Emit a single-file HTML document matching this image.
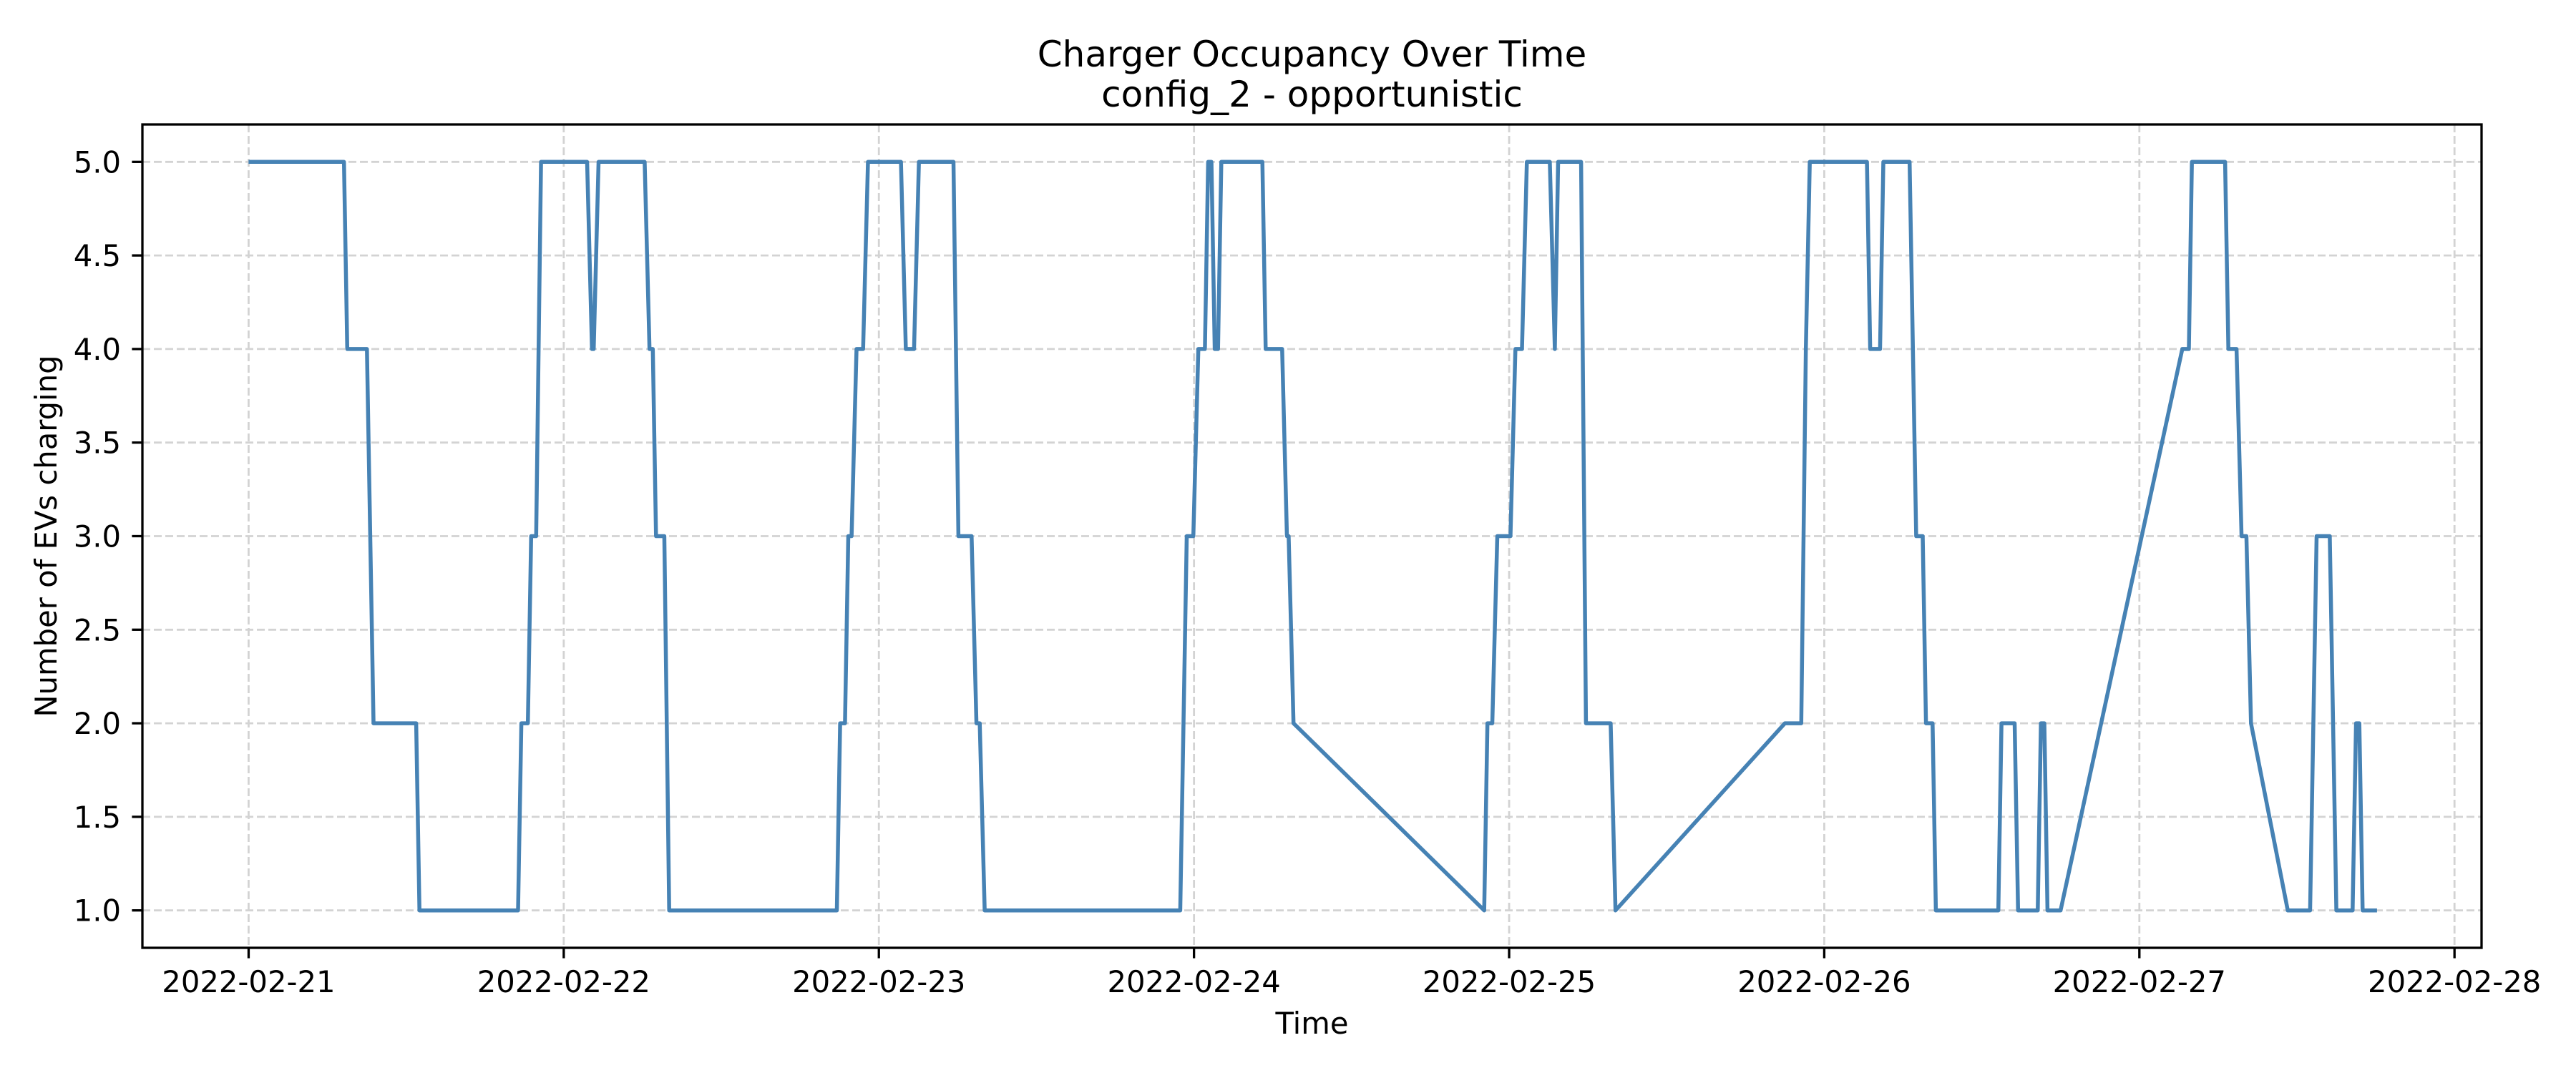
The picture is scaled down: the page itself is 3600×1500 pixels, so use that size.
<!DOCTYPE html>
<html><head><meta charset="utf-8"><style>
html,body{margin:0;padding:0;background:#fff;}
svg{display:block;font-family:"DejaVu Sans","Liberation Sans",sans-serif;}
</style></head><body>
<svg id="chart" width="3600" height="1500" viewBox="0 0 3600 1500" xmlns="http://www.w3.org/2000/svg">
<rect width="3600" height="1500" fill="#fff"/>
<text x="1833.5" y="93" font-size="50" text-anchor="middle">Charger Occupancy Over Time</text>
<text x="1833.5" y="149" font-size="50" text-anchor="middle">config_2 - opportunistic</text>
<g id="grid"></g>
<g id="ticks"></g>
<path id="line" fill="none" stroke="#4682b4" stroke-width="5.5" stroke-linejoin="round"/>
<rect x="199" y="174" width="3269" height="1151" fill="none" stroke="#000" stroke-width="3.3"/>
<text x="1833.5" y="1445" font-size="41.7" text-anchor="middle">Time</text>
<text transform="translate(79,749.5) rotate(-90)" font-size="41.7" text-anchor="middle">Number of EVs charging</text>
</svg>
<script>
// hours since 2022-02-21 00:00
const hours = [0,7.26,7.51,9.01,9.51,12.76,13.01,20.52,20.77,21.27,21.52,21.9,22.27,25.78,26.15,26.28,26.65,30.16,30.53,30.78,31.03,31.66,32.03,44.8,45.05,45.42,45.67,45.92,46.3,46.8,47.17,49.68,50.05,50.68,51.05,53.68,54.06,55.06,55.43,55.68,56.06,70.95,71.45,71.95,72.33,72.83,73.08,73.33,73.58,73.83,74.08,77.21,77.46,78.71,79.08,79.21,79.58,94.1,94.35,94.72,95.1,96.1,96.48,96.98,97.35,99.1,99.48,99.73,101.48,101.85,103.73,104.1,117,118.25,118.6,118.9,123.25,123.5,124.25,124.5,126.5,127,127.5,127.75,128.25,128.5,133.26,133.5,134.5,134.76,136.26,136.5,136.76,137.0,138.0,147.27,147.77,148.0,150.53,150.78,151.4,151.78,152.15,152.5,155.3,157.0,157.5,158.5,159.0,160.24,160.5,160.75,161.0,162.1];
const evs = [5,5,4,4,2,2,1,1,2,2,3,3,5,5,4,4,5,5,4,4,3,3,1,1,2,2,3,3,4,4,5,5,4,4,5,5,3,3,2,2,1,1,3,3,4,4,5,5,4,4,5,5,4,4,3,3,2,1,2,2,3,3,4,4,5,5,4,5,5,2,2,1,2,2,4,5,5,4,4,5,5,3,3,2,2,1,1,2,2,1,1,2,2,1,1,4,4,5,5,4,4,3,3,2,1,1,3,3,1,1,2,2,1,1];
const xTickLabels = ["2022-02-21","2022-02-22","2022-02-23","2022-02-24","2022-02-25","2022-02-26","2022-02-27","2022-02-28"];
const yTickValues = [1.0,1.5,2.0,2.5,3.0,3.5,4.0,4.5,5.0];

const L=199,R=3468,T=174,B=1325;
const xMin=-8.09,xMax=170.06,yMin=0.8,yMax=5.2;
const xs=h=>L+(h-xMin)/(xMax-xMin)*(R-L);
const ys=v=>B-(v-yMin)/(yMax-yMin)*(B-T);
const NS="http://www.w3.org/2000/svg";
const grid=document.getElementById('grid'), ticks=document.getElementById('ticks');
function mk(tag,attrs,parent){const e=document.createElementNS(NS,tag);for(const k in attrs)e.setAttribute(k,attrs[k]);parent.appendChild(e);return e;}
xTickLabels.forEach((lab,i)=>{
  const x=xs(i*24);
  const g=mk('line',{x1:x,x2:x,y1:T,y2:B,stroke:'#d3d3d3','stroke-width':2.8,'stroke-dasharray':'11,5'},grid);
  
  
  const t=mk('line',{x1:x,x2:x,y1:B,y2:B+14.6,stroke:'#000','stroke-width':3.3},ticks);
  
  
  const tx=mk('text',{x:x,y:1387,'font-size':41.7,'text-anchor':'middle'},ticks);
  tx.textContent=lab;
  
  
});
yTickValues.forEach(v=>{
  const y=ys(v);
  const g=mk('line',{x1:L,x2:R,y1:y,y2:y,stroke:'#d3d3d3','stroke-width':2.8,'stroke-dasharray':'11,5'},grid);
  
  
  const t=mk('line',{x1:L-14.6,x2:L,y1:y,y2:y,stroke:'#000','stroke-width':3.3},ticks);
  
  
  const tx=mk('text',{x:169,y:y+15,'font-size':41.7,'text-anchor':'end'},ticks);
  tx.textContent=v.toFixed(1);
  
  
});
document.getElementById('line').setAttribute('d',hours.map((h,i)=>(i?'L':'M')+xs(h).toFixed(1)+','+ys(evs[i]).toFixed(1)).join(''));
</script>
</body></html>
